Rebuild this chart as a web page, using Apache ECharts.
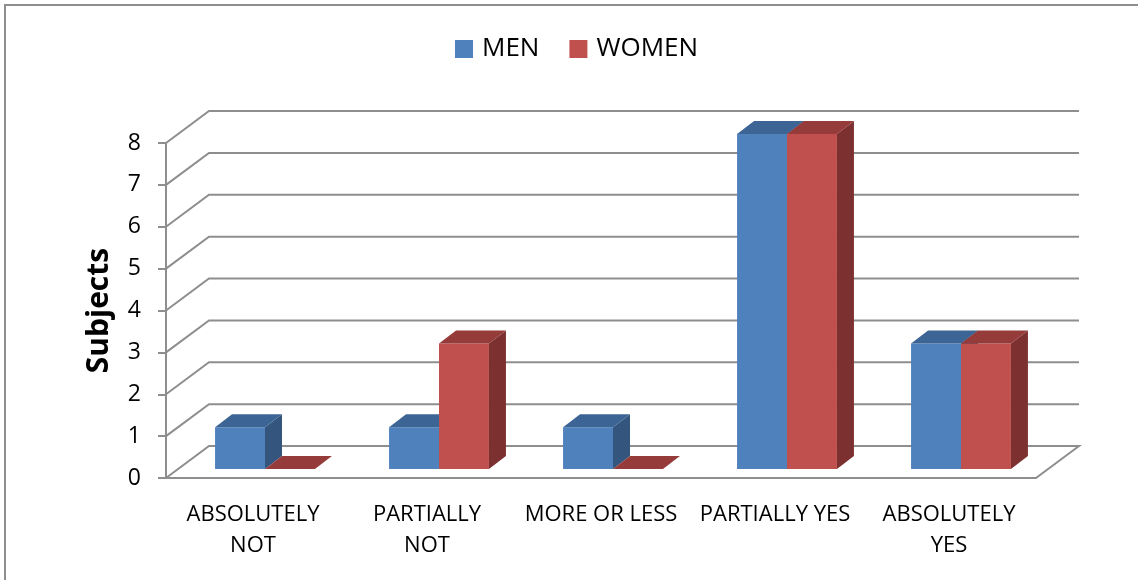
<!DOCTYPE html>
<html>
<head>
<meta charset="utf-8">
<title>Subjects by answer</title>
<script src="https://cdn.jsdelivr.net/npm/echarts@6/dist/echarts.min.js"></script>
<style>
  html, body { margin: 0; padding: 0; background: #ffffff; }
  #chart { width: 1138px; height: 580px; }
</style>
</head>
<body>
<div id="chart"></div>
<script>
// Answer categories along the floor
const categories = ['ABSOLUTELY\nNOT', 'PARTIALLY\nNOT', 'MORE OR LESS', 'PARTIALLY YES', 'ABSOLUTELY\nYES'];
// Number of subjects per answer
const men = [1, 1, 1, 8, 3];
const women = [0, 3, 0, 8, 3];
// Value axis ticks (also the wall grid lines)
const yTicks = [0, 1, 2, 3, 4, 5, 6, 7, 8];

// Oblique projection of the depth direction
const WALL_DX = 43, WALL_DY = -32;     // back wall offset from the front plane
const FRONT_DX = 12, FRONT_DY = -9;    // bar front face offset from the front plane
const BAR_DX = 17, BAR_DY = -13;       // bar depth
const BAR_RATIO = 0.287;               // bar width as part of a category band

const FONT = '"Open Sans", "Liberation Sans", sans-serif';
const GRID_COLOR = '#8e8e8e';

const palette = {
  men:   { front: '#4f81bd', top: '#3c6494', side: '#33557e' },
  women: { front: '#c0504d', top: '#953b3a', side: '#7c302f' }
};

function barRenderer(slot, col) {
  return function (params, api) {
    const cat = api.value(0), v = api.value(1);
    const base = api.coord([cat, 0]);
    const top = api.coord([cat, v]);
    const band = api.size([1, 0])[0];
    const w = band * BAR_RATIO;
    const x0 = base[0] + (slot === 0 ? -w : 0) + FRONT_DX;
    const x1 = x0 + w;
    const yB = base[1] + FRONT_DY;
    const yT = top[1] + FRONT_DY;
    const children = [];
    if (yB - yT > 0.5) {
      children.push({
        type: 'rect',
        shape: { x: x0, y: yT, width: w, height: yB - yT },
        style: { fill: col.front }
      });
      children.push({
        type: 'polygon',
        shape: { points: [[x1, yT], [x1 + BAR_DX, yT + BAR_DY], [x1 + BAR_DX, yB + BAR_DY], [x1, yB]] },
        style: { fill: col.side }
      });
    }
    children.push({
      type: 'polygon',
      shape: { points: [[x0, yT], [x1, yT], [x1 + BAR_DX, yT + BAR_DY], [x0 + BAR_DX, yT + BAR_DY]] },
      style: { fill: col.top }
    });
    return { type: 'group', children: children };
  };
}

function wallRenderer(params, api) {
  const v = api.value(0);
  const band = api.size([1, 0])[0];
  const left = api.coord([0, v]);
  const right = api.coord([categories.length - 1, v]);
  const xL = left[0] - band / 2;
  const xR = right[0] + band / 2;
  const y = left[1];
  const pts = [[xL, y], [xL + WALL_DX, y + WALL_DY], [xR + WALL_DX, y + WALL_DY]];
  if (v === 0) pts.push([xR, y]);
  return {
    type: 'polyline',
    shape: { points: pts },
    style: { stroke: GRID_COLOR, lineWidth: 2, fill: null }
  };
}

const chart = echarts.init(document.getElementById('chart'), null, { renderer: 'canvas' });

chart.setOption({
  animation: false,
  backgroundColor: '#ffffff',
  textStyle: { fontFamily: FONT },
  graphic: [{
    type: 'rect',
    shape: { x: 5, y: 5, width: 1200, height: 700 },
    style: { fill: null, stroke: '#8e8e8e', lineWidth: 2 },
    silent: true,
    z: -10
  }],
  legend: {
    data: ['MEN', 'WOMEN'],
    left: 450,
    top: 31,
    icon: 'rect',
    itemWidth: 18,
    itemHeight: 18,
    itemGap: 30,
    textStyle: { fontSize: 26, color: '#000000', fontFamily: FONT, padding: [0, 0, 0, 4] }
  },
  grid: { left: 166, top: 143, right: 102, bottom: 102, containLabel: false },
  xAxis: {
    type: 'category',
    data: categories,
    axisLine: { show: true, lineStyle: { color: GRID_COLOR, width: 2 } },
    axisTick: { show: false },
    axisLabel: { color: '#000000', fontSize: 22, lineHeight: 31, margin: 21, interval: 0, fontFamily: FONT },
    splitLine: { show: false }
  },
  yAxis: {
    type: 'value',
    min: 0,
    max: 8,
    interval: 1,
    name: 'Subjects',
    nameLocation: 'middle',
    nameRotate: 90,
    nameGap: 52,
    nameTextStyle: { fontSize: 30, fontWeight: 'bold', color: '#000000', fontFamily: FONT },
    axisLine: { show: true, lineStyle: { color: GRID_COLOR, width: 2 } },
    axisTick: { show: true, length: 8, lineStyle: { color: GRID_COLOR, width: 2 } },
    axisLabel: { color: '#000000', fontSize: 23, margin: 25, fontFamily: FONT },
    splitLine: { show: false }
  },
  series: [
    {
      name: 'walls',
      type: 'custom',
      silent: true,
      clip: false,
      z: 1,
      renderItem: wallRenderer,
      encode: { y: 0 },
      data: yTicks.map(v => [v])
    },
    {
      name: 'MEN',
      type: 'custom',
      clip: false,
      z: 2,
      itemStyle: { color: palette.men.front },
      renderItem: barRenderer(0, palette.men),
      encode: { x: 0, y: 1 },
      data: men.map((v, i) => [i, v])
    },
    {
      name: 'WOMEN',
      type: 'custom',
      clip: false,
      z: 3,
      itemStyle: { color: palette.women.front },
      renderItem: barRenderer(1, palette.women),
      encode: { x: 0, y: 1 },
      data: women.map((v, i) => [i, v])
    }
  ]
});
</script>
</body>
</html>
